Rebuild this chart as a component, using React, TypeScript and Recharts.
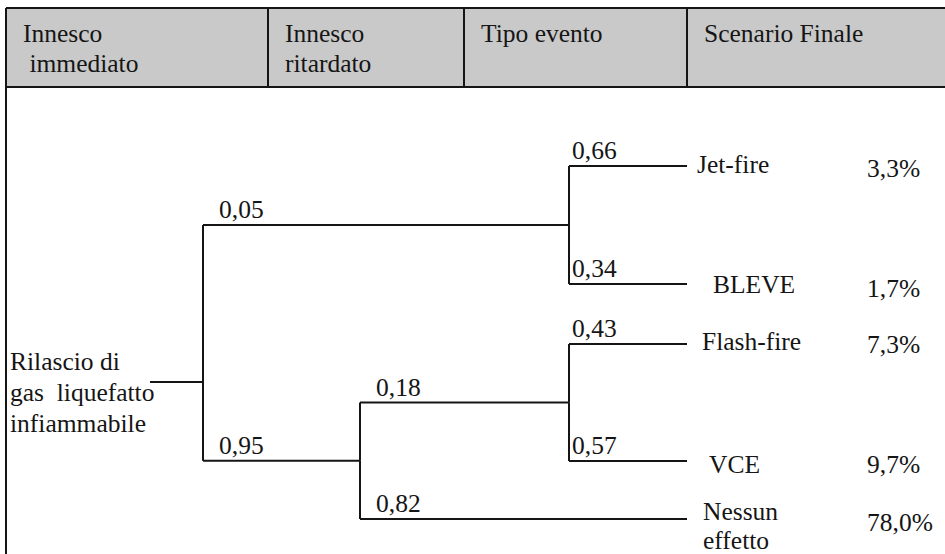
import { ReferenceArea, ReferenceLine, Scatter, ScatterChart, XAxis, YAxis } from 'recharts';

// event tree: release of flammable liquefied gas
const stageTitles = [['Innesco', ' immediato'], ['Innesco', 'ritardato'], ['Tipo evento'], ['Scenario Finale']];
const rootLabel = ['Rilascio di', 'gas  liquefatto', 'infiammabile'];
const immediateIgnition = [0.05, 0.95];
const delayedIgnition = [0.18, 0.82];
const jetBleve = [0.66, 0.34];
const flashVce = [0.43, 0.57];
const outcomeNames = [['Jet-fire'], ['BLEVE'], ['Flash-fire'], ['VCE'], ['Nessun', 'effetto']];
const outcomeFreq = [3.3, 1.7, 7.3, 9.7, 78.0];

// layout (chart units = px)
const W = 945;
const H = 554;
const FONT = 'Liberation Serif';
const INK = '#151515';
const BOX = { left: 6, top: 8, headBottom: 87 };
const DIVIDERS = [268, 464, 687];
const COL = { stem: 150, root: 203, delayed: 360, event: 569, leaf: 687 };
const LEAF_Y = [166, 284, 344, 461, 519];
const ROOT_Y = 382;
const NAME_DX = [10, 26, 15, 22, 16];
const NAME_DY = [7, 9, 6, 12, 1];
const FREQ_X = 867;
const FREQ_DY = [11, 13, 9, 12, 12];

const fmt = (v: number, d: number) => v.toFixed(d).replace('.', ',');
const mid = (a: number, b: number) => (a + b) / 2;

type Seg = { x1: number; y1: number; x2: number; y2: number };
type Txt = { x: number; y: number; text: string };

const segs: Seg[] = [];
const texts: Txt[] = [];

// branch: vertical from parent node, then horizontal to end
function branch(px: number, py: number, cy: number, endX: number, p: number, dx: number) {
  segs.push({ x1: px, y1: py, x2: px, y2: cy });
  segs.push({ x1: px, y1: cy, x2: endX, y2: cy });
  texts.push({ x: px + dx, y: cy - 7, text: fmt(p, 2) });
}

const yA = mid(LEAF_Y[0], LEAF_Y[1]);
const yC = mid(LEAF_Y[2], LEAF_Y[3]);
const yB = mid(yC, LEAF_Y[4]);

segs.push({ x1: COL.stem, y1: ROOT_Y, x2: COL.root, y2: ROOT_Y });
branch(COL.root, ROOT_Y, yA, COL.event, immediateIgnition[0], 16);
branch(COL.root, ROOT_Y, yB, COL.delayed, immediateIgnition[1], 16);
branch(COL.delayed, yB, yC, COL.event, delayedIgnition[0], 16);
branch(COL.delayed, yB, LEAF_Y[4], COL.leaf, delayedIgnition[1], 16);
branch(COL.event, yA, LEAF_Y[0], COL.leaf, jetBleve[0], 3);
branch(COL.event, yA, LEAF_Y[1], COL.leaf, jetBleve[1], 3);
branch(COL.event, yC, LEAF_Y[2], COL.leaf, flashVce[0], 3);
branch(COL.event, yC, LEAF_Y[3], COL.leaf, flashVce[1], 3);

// header frame
const colLeft = [BOX.left, ...DIVIDERS];
segs.push({ x1: BOX.left, y1: BOX.top, x2: W, y2: BOX.top });
segs.push({ x1: BOX.left, y1: BOX.headBottom, x2: W, y2: BOX.headBottom });
segs.push({ x1: BOX.left, y1: BOX.top, x2: BOX.left, y2: H });
DIVIDERS.forEach((x) => segs.push({ x1: x, y1: BOX.top, x2: x, y2: BOX.headBottom }));

stageTitles.forEach((lines, i) =>
  lines.forEach((t, j) => texts.push({ x: colLeft[i] + 17, y: 42 + j * 30, text: t }))
);
rootLabel.forEach((t, j) => texts.push({ x: 10, y: 370 + j * 31, text: t }));
outcomeNames.forEach((lines, i) =>
  lines.forEach((t, j) =>
    texts.push({ x: COL.leaf + NAME_DX[i], y: LEAF_Y[i] + NAME_DY[i] + j * 29, text: t })
  )
);
outcomeFreq.forEach((v, i) =>
  texts.push({ x: FREQ_X, y: LEAF_Y[i] + FREQ_DY[i], text: fmt(v, 1) + '%' })
);

const TextMark = (props: any) => {
  const { cx, cy, payload } = props;
  return (
    <text
      x={cx}
      y={cy}
      fill={INK}
      fontFamily={FONT}
      fontSize={25.5}
      style={{ whiteSpace: 'pre' }}
    >
      {payload.text}
    </text>
  );
};

export default function App() {
  return (
    <div style={{ position: 'absolute', left: 0, top: 0, width: W, height: H, background: '#fff' }}>
      <ScatterChart width={W} height={H} margin={{ top: 0, right: 0, bottom: 0, left: 0 }}>
        <XAxis type="number" dataKey="x" domain={[0, W]} hide allowDataOverflow />
        <YAxis type="number" dataKey="y" domain={[0, H]} reversed hide allowDataOverflow />
        <ReferenceArea x1={BOX.left} x2={W} y1={BOX.top} y2={BOX.headBottom} fill="#c9c9c9" fillOpacity={1} stroke="none" />
        {segs.map((s, i) => (
          <ReferenceLine
            key={i}
            segment={[{ x: s.x1, y: s.y1 }, { x: s.x2, y: s.y2 }]}
            stroke={INK}
            strokeWidth={2}
          />
        ))}
        <Scatter data={texts} shape={TextMark} isAnimationActive={false} />
      </ScatterChart>
    </div>
  );
}
